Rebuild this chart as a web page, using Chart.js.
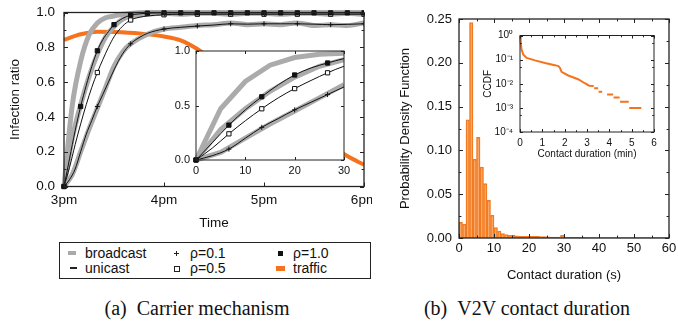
<!DOCTYPE html>
<html>
<head>
<meta charset="utf-8">
<script src="https://cdn.jsdelivr.net/npm/chart.js@4.4.1/dist/chart.umd.min.js"></script>
<style>
body { margin: 0; background: #fff; }
#fig { position: relative; width: 678px; height: 324px; overflow: hidden; font-family: "Liberation Sans", Arial, sans-serif; color: #111; }
canvas { position: absolute; }
.box { position: absolute; left: 59px; top: 242px; width: 312px; height: 37px; border: 1px solid #222; box-sizing: border-box; }
.txt { position: absolute; font-size: 14px; line-height: 16px; white-space: nowrap; }
.sym { position: absolute; }
.cap { position: absolute; top: 296px; font-family: "Liberation Serif", "Times New Roman", serif; font-size: 20px; line-height: 24px; white-space: nowrap; transform: translateX(-50%); }
</style>
</head>
<body>
<div id="fig">
  <canvas id="carrier" width="372" height="232" style="left:0;top:0;width:372px;height:232px"></canvas>
  <canvas id="carrierInset" width="195" height="135" style="left:160px;top:44px;width:195px;height:135px"></canvas>
  <canvas id="pdf" width="306" height="285" style="left:372px;top:0;width:306px;height:285px"></canvas>
  <canvas id="ccdf" width="186" height="132" style="left:478px;top:30px;width:186px;height:132px"></canvas>

  <div class="box"></div>
  <div class="sym" style="left:68px;top:251px;width:8px;height:4px;background:#aaa"></div>
  <div class="txt" style="left:85px;top:245px">broadcast</div>
  <div class="sym" style="left:70px;top:267px;width:7px;height:1.5px;background:#222"></div>
  <div class="txt" style="left:85px;top:260px">unicast</div>
  <div class="sym" style="left:174px;top:251px;width:5px;height:5px;background:linear-gradient(#222,#222) center/5px 1px no-repeat,linear-gradient(#222,#222) center/1px 5px no-repeat"></div>
  <div class="txt" style="left:190px;top:245px">ρ=0.1</div>
  <div class="sym" style="left:174px;top:266px;width:4px;height:4px;border:1px solid #222"></div>
  <div class="txt" style="left:190px;top:260px">ρ=0.5</div>
  <div class="sym" style="left:278px;top:251px;width:5px;height:5px;background:#111"></div>
  <div class="txt" style="left:293px;top:245px">ρ=1.0</div>
  <div class="sym" style="left:276px;top:266px;width:9px;height:5px;background:#f5731c"></div>
  <div class="txt" style="left:293px;top:260px">traffic</div>

  <div class="cap" style="left:197px">(a)&ensp;Carrier mechanism</div>
  <div class="cap" style="left:527px">(b)&ensp;V2V contact duration</div>
</div>

<script>
// ---- (a) infection ratio, minutes after 3pm ----
const hourLabels = ['3pm', '4pm', '5pm', '6pm'];

const uniMin = [0, 3.33, 6.67, 10, 13.33, 16.67, 20, 23.33, 26.67, 30, 35, 40, 45, 50, 60, 70, 80, 90, 100, 110, 120, 130, 140, 150, 160, 170, 180];
const uniRho10 = [0, 0.16, 0.32, 0.46, 0.58, 0.69, 0.78, 0.845, 0.89, 0.93, 0.965, 0.985, 0.992, 0.996, 0.998, 0.998, 0.998, 0.998, 0.998, 0.998, 0.998, 0.998, 0.998, 0.998, 0.998, 0.998, 0.998];
const uniRho05 = [0, 0.11, 0.24, 0.36, 0.47, 0.57, 0.655, 0.73, 0.80, 0.86, 0.92, 0.957, 0.972, 0.98, 0.987, 0.99, 0.99, 0.99, 0.99, 0.99, 0.99, 0.99, 0.99, 0.99, 0.99, 0.99, 0.99];
const uniRho01 = [0, 0.04, 0.10, 0.20, 0.30, 0.38, 0.46, 0.53, 0.60, 0.67, 0.76, 0.82, 0.855, 0.88, 0.905, 0.915, 0.922, 0.928, 0.935, 0.933, 0.935, 0.935, 0.935, 0.933, 0.93, 0.932, 0.935];

const bcMin = [0, 5, 10, 15, 20, 25, 30, 35, 40, 50, 60, 70, 80, 90, 100, 110, 120, 130, 140, 150, 160, 170, 180];
const bcFast = [0, 0.47, 0.72, 0.87, 0.94, 0.97, 0.98, 0.99, 0.995, 1.0, 1.0, 1.0, 1.0, 1.0, 1.0, 1.0, 1.0, 1.0, 1.0, 1.0, 1.0, 1.0, 1.0];
const bcMid = [0, 0.28, 0.47, 0.63, 0.76, 0.86, 0.92, 0.96, 0.98, 0.99, 0.995, 0.99, 0.995, 0.995, 0.99, 0.995, 0.995, 0.99, 0.995, 0.995, 0.99, 0.995, 0.99];
const bcSlow = [0, 0.07, 0.2, 0.33, 0.45, 0.57, 0.69, 0.77, 0.82, 0.875, 0.905, 0.915, 0.925, 0.93, 0.94, 0.93, 0.935, 0.93, 0.94, 0.925, 0.93, 0.925, 0.94];

const trafficMin = [0, 10, 20, 30, 45, 60, 70, 80, 90, 100, 110, 120, 130, 140, 150, 160, 170, 180];
const trafficVal = [0.843, 0.875, 0.89, 0.888, 0.88, 0.862, 0.84, 0.79, 0.72, 0.65, 0.57, 0.5, 0.43, 0.36, 0.3, 0.24, 0.175, 0.125];

// ---- (b) contact duration histogram (1 s bins) and CCDF ----
const binSec = [0.5, 1.5, 2.5, 3.5, 4.5, 5.5, 6.5, 7.5, 8.5, 9.5,
  10.5, 11.5, 12.5, 13.5, 14.5, 15.5, 16.5, 17.5, 18.5, 19.5,
  20.5, 21.5, 22.5, 23.5, 24.5, 25.5, 26.5, 27.5, 28.5, 29.5,
  30.5, 31.5, 32.5, 33.5, 34.5, 35.5, 36.5, 37.5, 38.5, 39.5,
  40.5, 41.5, 42.5, 43.5, 44.5, 45.5, 46.5, 47.5, 48.5, 49.5,
  50.5, 51.5, 52.5, 53.5, 54.5, 55.5, 56.5, 57.5, 58.5, 59.5];
const pdfVal = [0.018, 0.016, 0.135, 0.246, 0.090, 0.115, 0.081, 0.062, 0.043, 0.026,
  0.012, 0.008, 0.005, 0.004, 0.003, 0.003, 0.0025, 0.002, 0.002, 0.002,
  0.002, 0.0018, 0.0018, 0.0015, 0.0015, 0.0012, 0.001, 0.001, 0.001, 0.003,
  0.001, 0.0008, 0.0008, 0.0008, 0.0007, 0.0007, 0.0006, 0.0006, 0.0006, 0.0006,
  0.0005, 0.0005, 0.0005, 0.0005, 0.0005, 0.0005, 0.0005, 0.0005, 0.0005, 0.0005,
  0.0005, 0.0005, 0.0005, 0.0005, 0.0005, 0.0005, 0.0005, 0.0005, 0.0005, 0.0005];

const ccdfMin = [0, 0.03, 0.07, 0.15, 0.3, 0.67, 1.12, 1.56, 1.72, 1.79, 1.86, 2.16, 2.6, 2.9, 3.1, 3.3,
  3.31, 3.32, 3.5, 3.51, 3.52, 3.68, 3.8, 3.9, 4.17, 4.18, 4.19, 4.46, 4.47, 4.48, 4.87, 4.88, 4.89, 5.43];
const ccdfVal = [0.95, 0.5, 0.26, 0.16, 0.117, 0.093, 0.072, 0.059, 0.054, 0.045, 0.031, 0.022, 0.0154, 0.0105, 0.0083, 0.008,
  null, 0.0065, 0.0065, null, 0.0047, 0.0047, null, 0.0036, 0.0036, null, 0.0027, 0.0027, null, 0.0018, 0.0018, null, 0.001, 0.001];
const ccdfTicks = [0.0001, 0.001, 0.01, 0.1, 1];
const ccdfTickLabels = ['10⁻⁴', '10⁻³', '10⁻²', '10⁻¹', '10⁰'];

// ---- helpers ----
Chart.defaults.font.family = '"Liberation Sans", Arial, sans-serif';
Chart.defaults.color = '#111';
Chart.defaults.animation = false;
Chart.defaults.plugins.legend.display = false;
Chart.defaults.plugins.tooltip.enabled = false;

const GRAY = '#ababab';
const ORANGE = '#f5731c';
const NOGRID = { display: false, drawTicks: false };

function pts(xs, ys) {
  return xs.map((x, i) => ({ x: x, y: ys[i] }));
}

// marker only every `step` minutes
function every(step, r) {
  return ctx => {
    const k = ctx.raw.x / step;
    return Math.abs(k - Math.round(k)) < 0.01 ? r : 0;
  };
}

function fixW(w) {
  return s => { s.width = w; s.paddingTop = 0; s.paddingBottom = 0; };
}
function fixH(h) {
  return s => { s.height = h; s.paddingLeft = 0; s.paddingRight = 0; };
}

// gnuplot-like box with inward ticks on all sides
const frame = {
  id: 'frame',
  beforeDraw(chart, args, o) {
    if (!o.fill) return;
    const a = chart.chartArea;
    chart.ctx.save();
    chart.ctx.fillStyle = o.fill;
    chart.ctx.fillRect(a.left, a.top, a.right - a.left, a.bottom - a.top);
    chart.ctx.restore();
  },
  afterDraw(chart, args, o) {
    const { ctx, chartArea: a } = chart;
    const x = chart.scales.x, y = chart.scales.y;
    const len = o.len || 4;
    ctx.save();
    ctx.strokeStyle = '#222';
    ctx.lineWidth = 1;
    ctx.beginPath();
    const tx = (vals, l) => vals.forEach(v => {
      const p = Math.round(x.getPixelForValue(v)) + 0.5;
      ctx.moveTo(p, a.bottom); ctx.lineTo(p, a.bottom - l);
      ctx.moveTo(p, a.top); ctx.lineTo(p, a.top + l);
    });
    const ty = (vals, l) => vals.forEach(v => {
      const p = Math.round(y.getPixelForValue(v)) + 0.5;
      ctx.moveTo(a.left, p); ctx.lineTo(a.left + l, p);
      ctx.moveTo(a.right, p); ctx.lineTo(a.right - l, p);
    });
    tx(x.ticks.map(t => t.value), len);
    tx(o.xMinor || [], len * 0.6);
    ty(y.ticks.map(t => t.value), len);
    ty(o.yMinor || [], len * 0.6);
    ctx.stroke();
    ctx.lineWidth = o.border || 1;
    ctx.strokeRect(a.left, a.top, a.right - a.left, a.bottom - a.top);
    ctx.restore();
  }
};

function carrierSets(markStep, bcTension, withTraffic) {
  const clip = { left: 4, top: 4, right: 0, bottom: 4 };
  const sets = [
    { data: pts(uniMin, uniRho10), borderColor: '#111', borderWidth: 1, cubicInterpolationMode: 'monotone',
      pointStyle: 'rect', pointRadius: every(markStep[0], 3), pointBackgroundColor: '#111', pointBorderColor: '#111', pointBorderWidth: 1, clip: clip },
    { data: pts(uniMin, uniRho05), borderColor: '#111', borderWidth: 1, cubicInterpolationMode: 'monotone',
      pointStyle: 'rect', pointRadius: every(markStep[1], 3), pointBackgroundColor: '#fff', pointBorderColor: '#111', pointBorderWidth: 1, clip: clip },
    { data: pts(uniMin, uniRho01), borderColor: '#111', borderWidth: 1, cubicInterpolationMode: 'monotone',
      pointStyle: 'cross', pointRadius: every(markStep[1], 2.5), pointBorderColor: '#111', pointBorderWidth: 1, clip: clip },
    { data: pts(bcMin, bcFast), borderColor: GRAY, borderWidth: 5, tension: bcTension, pointRadius: 0, clip: clip },
    { data: pts(bcMin, bcMid), borderColor: GRAY, borderWidth: 5, tension: bcTension, pointRadius: 0, clip: clip },
    { data: pts(bcMin, bcSlow), borderColor: GRAY, borderWidth: 5, tension: bcTension, pointRadius: 0, clip: clip }
  ];
  if (withTraffic) {
    sets.push({ data: pts(trafficMin, trafficVal), borderColor: ORANGE, borderWidth: 4, cubicInterpolationMode: 'monotone', pointRadius: 0, clip: clip });
  }
  return sets;
}

// -------- (a) main --------
new Chart(document.getElementById('carrier'), {
  type: 'line',
  data: { datasets: carrierSets([10, 20], 0.3, true) },
  options: {
    responsive: false,
    layout: { padding: { top: 12.5, right: 8, left: 0, bottom: 0 } },
    scales: {
      x: {
        type: 'linear', min: 0, max: 180,
        grid: NOGRID, border: { display: false },
        ticks: { stepSize: 60, padding: 6, font: { size: 13.5 }, callback: v => hourLabels[v / 60] },
        title: { display: true, text: 'Time', font: { size: 13.5 }, padding: { top: 0, bottom: 1 } },
        afterFit: fixH(45.5)
      },
      y: {
        min: 0, max: 1,
        grid: NOGRID, border: { display: false },
        ticks: { stepSize: 0.2, padding: 9, font: { size: 13.5 }, callback: v => v.toFixed(1) },
        title: { display: true, text: 'Infection ratio', font: { size: 13.5 }, padding: { top: 7, bottom: 0 } },
        afterFit: fixW(64)
      }
    },
    plugins: { frame: { len: 4, border: 1.3, yMinor: [0.1, 0.3, 0.5, 0.7, 0.9] } }
  },
  plugins: [frame]
});

// -------- (a) inset: first 30 minutes --------
new Chart(document.getElementById('carrierInset'), {
  type: 'line',
  data: { datasets: carrierSets([20 / 3, 20 / 3], 0, false) },
  options: {
    responsive: false,
    layout: { padding: { top: 7, right: 11, left: 0, bottom: 0 } },
    scales: {
      x: {
        type: 'linear', min: 0, max: 30,
        grid: NOGRID, border: { display: false },
        ticks: { stepSize: 10, padding: 4, font: { size: 11 } },
        afterFit: fixH(19)
      },
      y: {
        min: 0, max: 1,
        grid: NOGRID, border: { display: false },
        ticks: { stepSize: 0.5, padding: 6, font: { size: 11 }, callback: v => v.toFixed(1) },
        afterFit: fixW(36)
      }
    },
    plugins: { frame: { len: 3, border: 1, fill: '#fff' } }
  },
  plugins: [frame]
});

// -------- (b) PDF histogram --------
new Chart(document.getElementById('pdf'), {
  type: 'bar',
  data: {
    datasets: [{
      data: pts(binSec, pdfVal),
      backgroundColor: 'rgba(246,131,42,0.55)',
      borderColor: '#f27a20',
      borderWidth: 1,
      barPercentage: 1,
      categoryPercentage: 1
    }]
  },
  options: {
    responsive: false,
    layout: { padding: { top: 19, right: 9, left: 0, bottom: 0 } },
    scales: {
      x: {
        type: 'linear', min: 0, max: 60, offset: false,
        grid: NOGRID, border: { display: false },
        ticks: { stepSize: 10, padding: 3, font: { size: 13 } },
        title: { display: true, text: 'Contact duration (s)', font: { size: 13 }, padding: { top: 0, bottom: 2 } },
        afterFit: fixH(47)
      },
      y: {
        min: 0, max: 0.25,
        grid: NOGRID, border: { display: false },
        ticks: { stepSize: 0.05, padding: 7, font: { size: 13 }, callback: v => v.toFixed(2) },
        title: { display: true, text: 'Probability Density Function', font: { size: 13 }, padding: { top: 26, bottom: 0 } },
        afterFit: fixW(87)
      }
    },
    plugins: {
      frame: {
        len: 4, border: 1.3,
        xMinor: [5, 15, 25, 35, 45, 55],
        yMinor: [0.025, 0.075, 0.125, 0.175, 0.225]
      }
    }
  },
  plugins: [frame]
});

// -------- (b) inset: CCDF --------
new Chart(document.getElementById('ccdf'), {
  type: 'line',
  data: {
    datasets: [{
      data: pts(ccdfMin, ccdfVal),
      borderColor: ORANGE,
      borderWidth: 2,
      pointRadius: 0,
      spanGaps: false,
      clip: { left: 2, top: 2, right: 0, bottom: 0 }
    }]
  },
  options: {
    responsive: false,
    layout: { padding: { top: 5.5, right: 10, left: 0, bottom: 0 } },
    scales: {
      x: {
        type: 'linear', min: 0, max: 6,
        grid: NOGRID, border: { display: false },
        ticks: { stepSize: 1, padding: 5, font: { size: 10 } },
        title: { display: true, text: 'Contact duration (min)', font: { size: 10 }, padding: { top: 0, bottom: 2 } },
        afterFit: fixH(30)
      },
      y: {
        type: 'logarithmic', min: 0.0001, max: 1,
        grid: NOGRID, border: { display: false },
        afterBuildTicks: s => { s.ticks = ccdfTicks.map(v => ({ value: v })); },
        ticks: {
          autoSkip: false, padding: 7, font: { size: 10 },
          callback: v => ccdfTickLabels[ccdfTicks.findIndex(t => Math.abs(Math.log10(t) - Math.log10(v)) < 0.01)]
        },
        title: { display: true, text: 'CCDF', font: { size: 10 }, padding: { top: 4, bottom: 0 } },
        afterFit: fixW(42)
      }
    },
    plugins: {
      frame: {
        len: 3, border: 1, fill: '#fff',
        xMinor: [0.5, 1.5, 2.5, 3.5, 4.5, 5.5],
        yMinor: [0.5, 0.05, 0.005, 0.0005]
      }
    }
  },
  plugins: [frame]
});
</script>
</body>
</html>
